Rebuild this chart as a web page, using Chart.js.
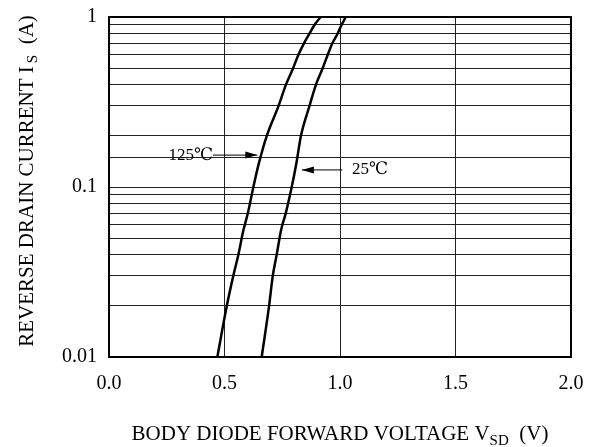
<!DOCTYPE html>
<html><head><meta charset="utf-8">
<script src="https://cdn.jsdelivr.net/npm/chart.js@4/dist/chart.umd.min.js"></script>
<style>html,body{margin:0;padding:0;background:#fff}#wrap{width:601px;height:447px}</style>
</head><body><div id="wrap"><canvas id="c" width="601" height="447"></canvas></div>
<script>
const xTicks = [0.0, 0.5, 1.0, 1.5, 2.0];
const yTickLabels = [0.01, 0.1, 1];
const i125 = [0.010, 0.020, 0.030, 0.040, 0.0558, 0.070, 0.100, 0.135, 0.200, 0.300, 0.400, 0.500, 0.600, 0.700, 0.800, 0.900, 1.000];
const v125 = [0.469, 0.510, 0.538, 0.560, 0.582, 0.601, 0.625, 0.647, 0.683, 0.734, 0.766, 0.797, 0.820, 0.844, 0.868, 0.890, 0.916];
const i25 = [0.010, 0.020, 0.030, 0.040, 0.0558, 0.070, 0.100, 0.135, 0.200, 0.300, 0.400, 0.500, 0.600, 0.700, 0.800, 0.900, 1.000];
const v25 = [0.661, 0.693, 0.709, 0.726, 0.745, 0.765, 0.791, 0.810, 0.831, 0.868, 0.896, 0.925, 0.947, 0.967, 0.990, 1.007, 1.025];
const seriesNames = ['125℃', '25℃'];
const xTitle = ['BODY DIODE FORWARD VOLTAGE V', 'SD', '  (V)'];
const yTitle = ['REVERSE DRAIN CURRENT I', 'S', '  (A)'];
// annotation: label, text x (V), arrow from x, arrow to x, y (A)
const ann125 = {text: '125℃', tx: 0.45, ax0: 0.45, ax1: 0.642, y: 0.154, align: 'right'};
const ann25 = {text: '25℃', tx: 1.052, ax0: 1.01, ax1: 0.835, y: 0.126, align: 'left'};

const FONT = '"Liberation Serif", "DejaVu Serif", "Times New Roman", serif';
function pts(xs, ys){ return xs.map((x,i)=>({x:x, y:ys[i]})); }

const deco = {
  id: 'deco',
  afterDraw(chart){
    const ctx = chart.ctx, a = chart.chartArea, sx = chart.scales.x, sy = chart.scales.y;
    ctx.save();
    ctx.strokeStyle = '#000'; ctx.lineWidth = 2;
    ctx.strokeRect(a.left, a.top, a.right - a.left, a.bottom - a.top);
    // annotations
    ctx.fillStyle = '#000'; ctx.font = '17px ' + FONT; ctx.textBaseline = 'middle';
    [ann125, ann25].forEach(an => {
      const y = sy.getPixelForValue(an.y);
      const x0 = sx.getPixelForValue(an.ax0), x1 = sx.getPixelForValue(an.ax1);
      const tx = sx.getPixelForValue(an.tx);
      ctx.textAlign = an.align;
      ctx.fillText(an.text, tx, y);
      ctx.lineWidth = 1;
      ctx.beginPath(); ctx.moveTo(x0, y); ctx.lineTo(x1, y); ctx.stroke();
      const d = x1 > x0 ? 1 : -1;
      ctx.beginPath(); ctx.moveTo(x1, y); ctx.lineTo(x1 - d*12, y - 3.5); ctx.lineTo(x1 - d*12, y + 3.5); ctx.closePath(); ctx.fill();
    });
    // x title with subscript
    const big = '21px ' + FONT, small = '15px ' + FONT;
    ctx.textAlign = 'left'; ctx.textBaseline = 'alphabetic';
    ctx.font = big; const w0 = ctx.measureText(xTitle[0]).width, w2 = ctx.measureText(xTitle[2]).width;
    ctx.font = small; const w1 = ctx.measureText(xTitle[1]).width;
    let x = (a.left + a.right)/2 - (w0 + w1 + w2)/2, yb = 440;
    ctx.font = big; ctx.fillText(xTitle[0], x, yb); x += w0;
    ctx.font = small; ctx.fillText(xTitle[1], x, yb + 5); x += w1;
    ctx.font = big; ctx.fillText(xTitle[2], x, yb);
    // y title rotated
    ctx.save();
    ctx.translate(33, 181);
    ctx.rotate(-Math.PI/2);
    ctx.font = big; const u0 = ctx.measureText(yTitle[0]).width, u2 = ctx.measureText(yTitle[2]).width;
    ctx.font = small; const u1 = ctx.measureText(yTitle[1]).width;
    let xx = -(u0 + u1 + u2 + 3)/2;
    ctx.font = big; ctx.fillText(yTitle[0], xx, 0); xx += u0 + 3;
    ctx.font = small; ctx.fillText(yTitle[1], xx, 4); xx += u1;
    ctx.font = big; ctx.fillText(yTitle[2], xx, 0);
    ctx.restore();
    ctx.restore();
  }
};

new Chart(document.getElementById('c'), {
  type: 'scatter',
  data: { datasets: [
    {label: seriesNames[0], data: pts(v125, i125), showLine: true, borderColor: '#000', borderWidth: 2.5, pointRadius: 0, cubicInterpolationMode: 'monotone'},
    {label: seriesNames[1], data: pts(v25, i25), showLine: true, borderColor: '#000', borderWidth: 2.5, pointRadius: 0, cubicInterpolationMode: 'monotone'}
  ]},
  options: {
    responsive: false, animation: false, devicePixelRatio: 1,
    layout: {padding: {top: 17, right: 30, left: 0, bottom: 0}},
    plugins: {legend: {display: false}, tooltip: {enabled: false}},
    scales: {
      x: {
        type: 'linear', min: 0, max: 2,
        afterBuildTicks: s => { s.ticks = xTicks.map(v => ({value: v})); },
        afterFit: s => { s.height = 90; s.paddingLeft = 0; s.paddingRight = 0; },
        ticks: {callback: v => Number(v).toFixed(1), font: {family: FONT, size: 20}, color: '#000', padding: 15, maxRotation: 0},
        grid: {color: '#222', lineWidth: 1, drawTicks: false},
        border: {display: false}
      },
      y: {
        type: 'logarithmic', min: 0.01, max: 1,
        afterFit: s => { s.width = 109; s.paddingTop = 0; s.paddingBottom = 0; },
        ticks: {callback: v => (yTickLabels.some(t => Math.abs(t - v) < 1e-9) ? String(v) : ''), autoSkip: false, font: {family: FONT, size: 20}, color: '#000', padding: 12},
        grid: {color: '#222', lineWidth: 1, drawTicks: false},
        border: {display: false}
      }
    }
  },
  plugins: [deco]
});
</script></body></html>
